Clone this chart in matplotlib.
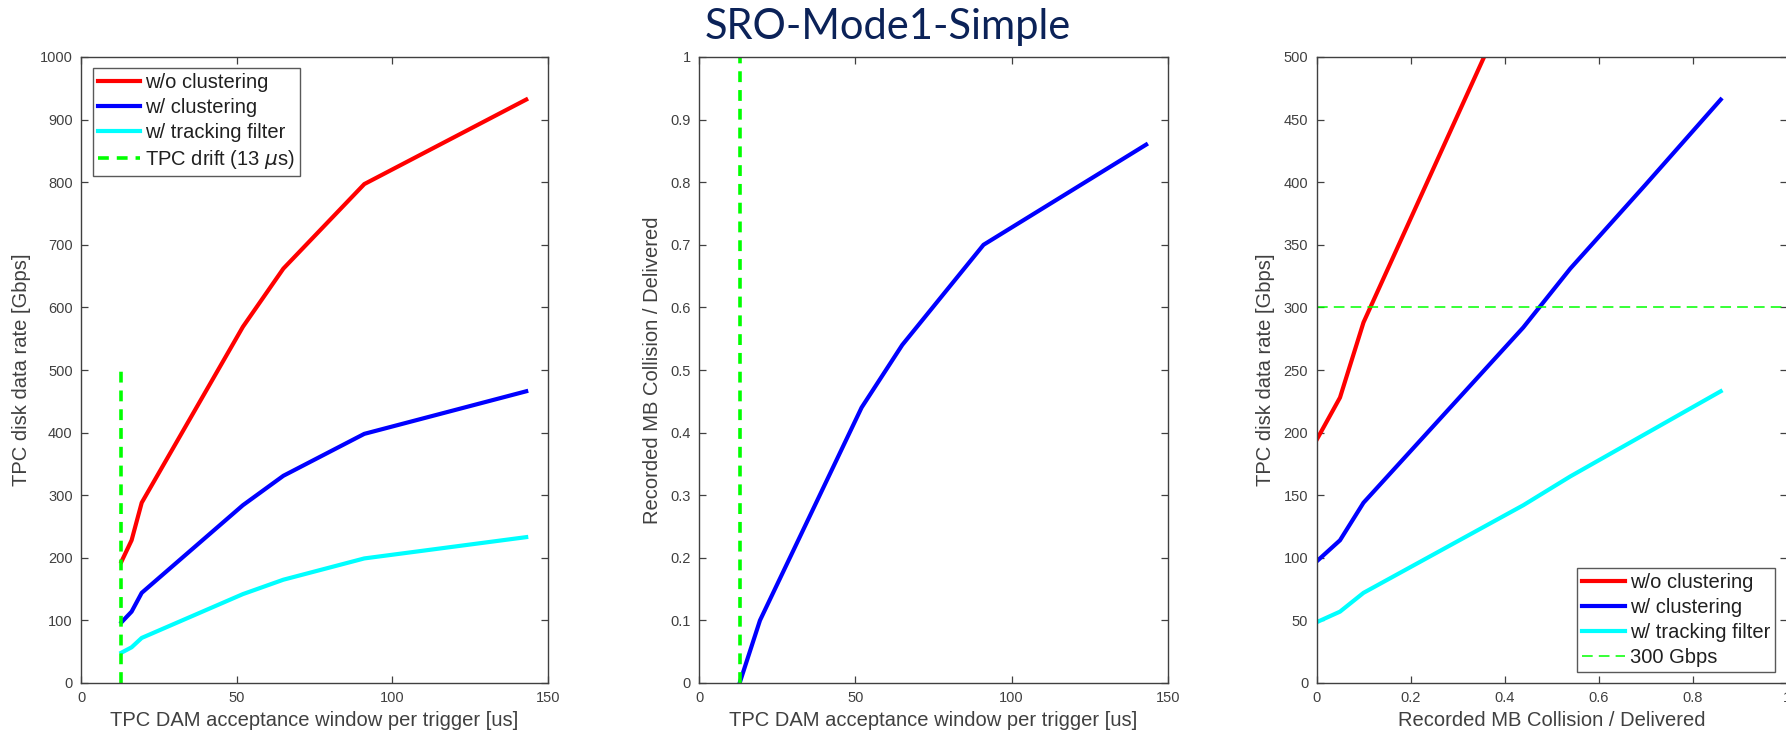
import matplotlib
matplotlib.use("Agg")
import matplotlib.pyplot as plt

# ---- data ----
window_us = [13, 16.25, 19.5, 52, 65, 91, 143]          # TPC DAM acceptance window [us]
recorded_frac = [0.0, 0.05, 0.10, 0.44, 0.54, 0.70, 0.86]  # Recorded MB collision / delivered
rate_no_clust = [194, 228, 288, 569, 662, 797, 932]     # Gbps, w/o clustering
rate_clust = [97, 114, 144, 284, 331, 398, 466]         # Gbps, w/ clustering
rate_track = [48.5, 57, 72, 142, 165, 199, 233]         # Gbps, w/ tracking filter
drift_us = 13
drift_ymax = 500
limit_gbps = 300

labels = ["w/o clustering", "w/ clustering", "w/ tracking filter"]
legend_drift = r"TPC drift (13 $\mu$s)"
legend_limit = "300 Gbps"
title = "SRO-Mode1-Simple"
xlabel_win = "TPC DAM acceptance window per trigger [us]"
xlabel_frac = "Recorded MB Collision / Delivered"
ylabel_rate = "TPC disk data rate [Gbps]"
ylabel_frac = "Recorded MB Collision / Delivered"

# ---- style ----
plt.rcParams['font.family'] = ['Liberation Sans', 'DejaVu Sans']
GRAY = '#404040'
RED, BLUE, CYAN, GREEN = '#ff0000', '#0000ff', '#00ffff', '#00ff00'
LW = 3.0

W, H = 1786, 737
fig = plt.figure(figsize=(W / 100, H / 100), dpi=100)

def px_axes(x0, x1, y0, y1):
    return fig.add_axes([x0 / W, 1 - y1 / H, (x1 - x0) / W, (y1 - y0) / H])

def style(ax):
    for s in ax.spines.values():
        s.set_color(GRAY)
        s.set_linewidth(1.0)
    ax.tick_params(direction='in', top=True, right=True, length=5, width=0.9,
                   color=GRAY, labelcolor=GRAY, labelsize=10.5, pad=6)

ax1 = px_axes(81, 548, 57, 683)
ax2 = px_axes(699, 1168, 57, 683)
ax3 = px_axes(1316.5, 1786.5, 57, 683)

# left panel
ax1.plot(window_us, rate_no_clust, color=RED, lw=LW, label=labels[0])
ax1.plot(window_us, rate_clust, color=BLUE, lw=LW, label=labels[1])
ax1.plot(window_us, rate_track, color=CYAN, lw=LW, label=labels[2])
ax1.plot([drift_us, drift_us], [0, drift_ymax], color=GREEN, lw=2.6, ls=(0, (3, 2.2)),
         label=legend_drift)
ax1.set_xlim(0, 150)
ax1.set_ylim(0, 1000)
ax1.set_xticks([0, 50, 100, 150])
ax1.set_yticks(range(0, 1001, 100))
ax1.set_xlabel(xlabel_win, fontsize=14.5, color=GRAY, labelpad=4)
ax1.set_ylabel(ylabel_rate, fontsize=14.5, color=GRAY, labelpad=6)
style(ax1)
leg1 = ax1.legend(loc='upper left', bbox_to_anchor=(92.7 / W, 1 - 68 / H),
                  bbox_transform=fig.transFigure, fontsize=14.5, frameon=True,
                  fancybox=False, edgecolor='#303030', borderaxespad=0,
                  handlelength=2.1, handletextpad=0.25, labelspacing=0.3,
                  borderpad=0.25)
leg1.get_frame().set_linewidth(1.0)
for t in leg1.get_texts():
    t.set_color('#202020')

# middle panel
ax2.plot(window_us, recorded_frac, color=BLUE, lw=LW)
ax2.plot([drift_us, drift_us], [0, 1], color=GREEN, lw=2.6, ls=(0, (3, 2.2)))
ax2.set_xlim(0, 150)
ax2.set_ylim(0, 1)
ax2.set_xticks([0, 50, 100, 150])
ax2.set_yticks([i / 10 for i in range(11)])
ax2.set_yticklabels(['0', '0.1', '0.2', '0.3', '0.4', '0.5', '0.6', '0.7', '0.8', '0.9', '1'])
ax2.set_xlabel(xlabel_win, fontsize=14.5, color=GRAY, labelpad=4)
ax2.set_ylabel(ylabel_frac, fontsize=14.5, color=GRAY, labelpad=6)
style(ax2)

# right panel
ax3.plot(recorded_frac, rate_no_clust, color=RED, lw=LW, label=labels[0])
ax3.plot(recorded_frac, rate_clust, color=BLUE, lw=LW, label=labels[1])
ax3.plot(recorded_frac, rate_track, color=CYAN, lw=LW, label=labels[2])
ax3.axhline(limit_gbps, color=GREEN, lw=1.1, ls=(0, (7, 4)), label=legend_limit)
ax3.set_xlim(0, 1)
ax3.set_ylim(0, 500)
ax3.set_xticks([0, 0.2, 0.4, 0.6, 0.8, 1])
ax3.set_xticklabels(['0', '0.2', '0.4', '0.6', '0.8', '1'])
ax3.set_yticks(range(0, 501, 50))
ax3.set_xlabel(xlabel_frac, fontsize=14.5, color=GRAY, labelpad=4)
ax3.set_ylabel(ylabel_rate, fontsize=14.5, color=GRAY, labelpad=6)
style(ax3)
leg3 = ax3.legend(loc='lower right', bbox_to_anchor=(1775 / W, 1 - 672 / H),
                  bbox_transform=fig.transFigure, fontsize=14.5, frameon=True,
                  fancybox=False, edgecolor='#303030', borderaxespad=0,
                  handlelength=2.1, handletextpad=0.25, labelspacing=0.3,
                  borderpad=0.25)
leg3.get_frame().set_linewidth(1.0)
for t in leg3.get_texts():
    t.set_color('#202020')

fig.text(888 / W, 1 - 27 / H, title, ha='center', va='center', fontsize=30,
         color='#0b2258', family=['Lato', 'DejaVu Sans'])

fig.savefig('out.png', dpi=100)
